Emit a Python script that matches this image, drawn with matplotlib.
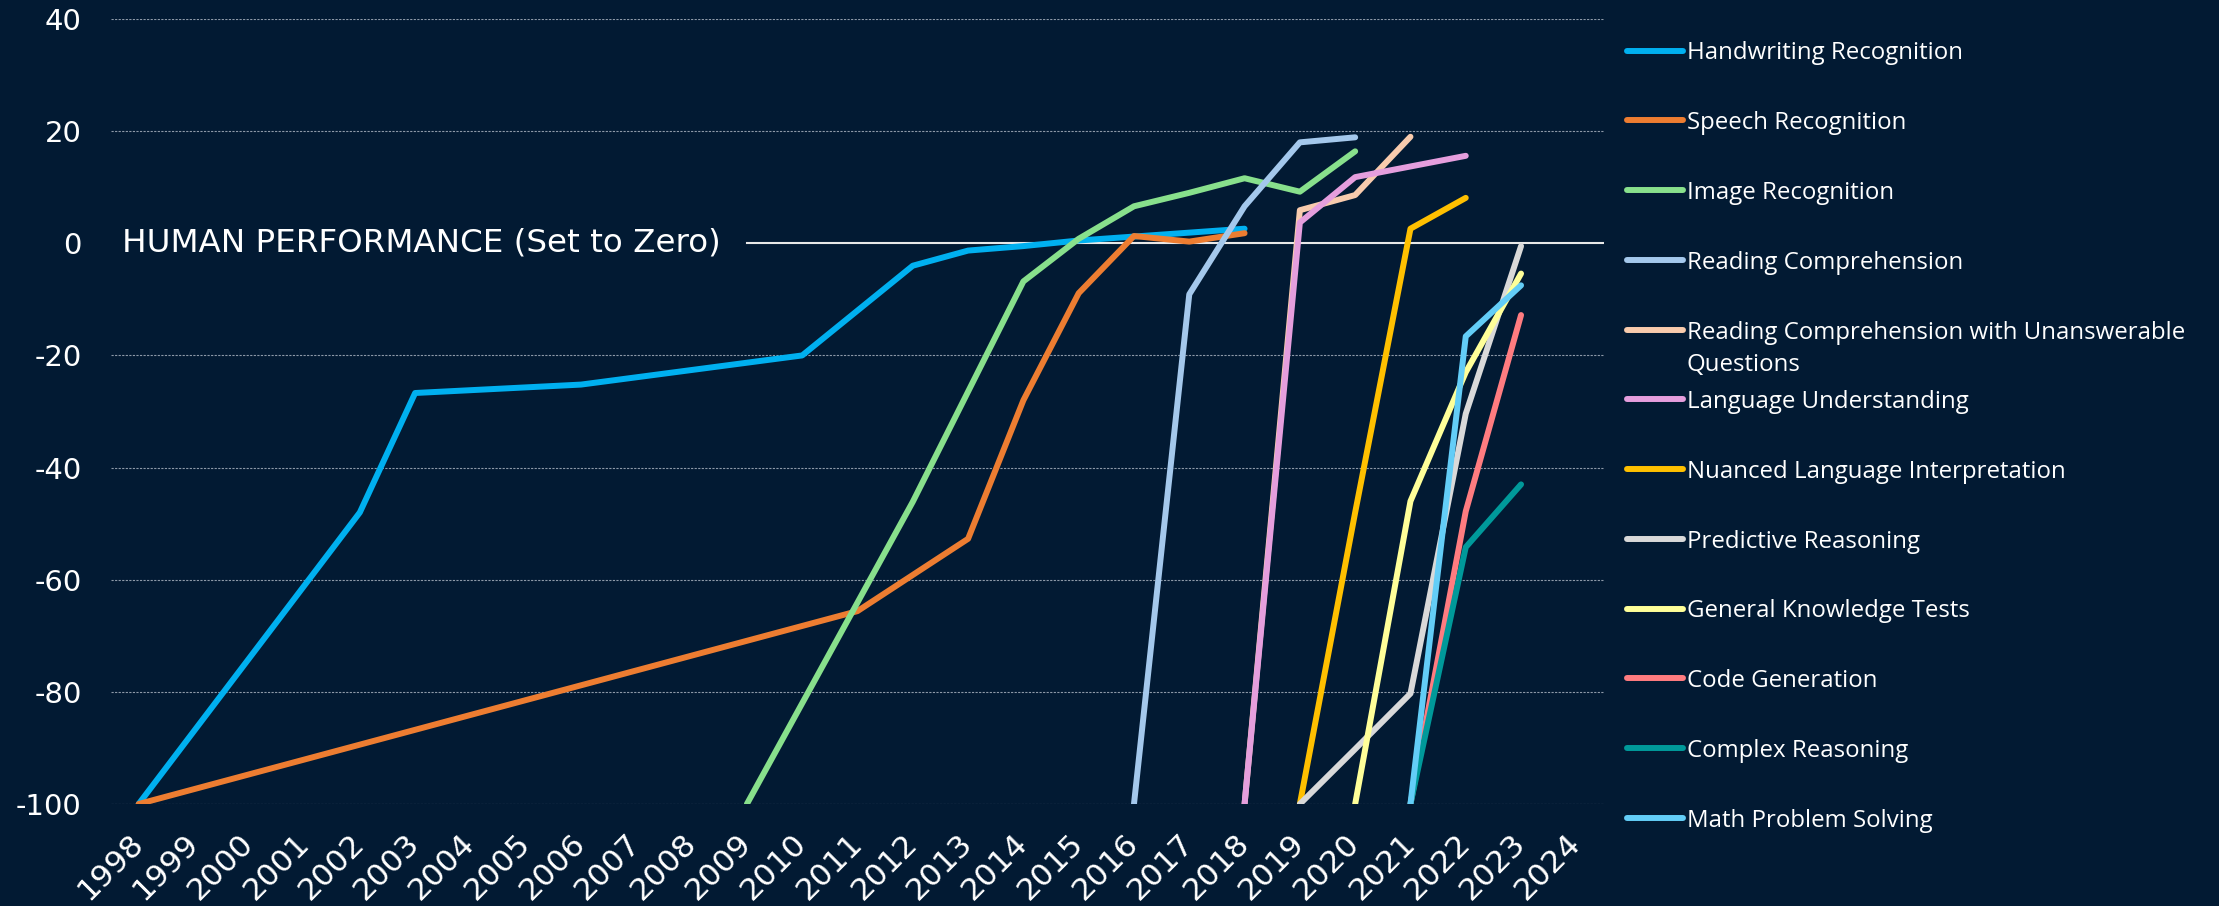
import matplotlib
matplotlib.use("Agg")
import matplotlib.pyplot as plt
from matplotlib.lines import Line2D

BG = "#021a33"

years = list(range(1998, 2025))
y_ticks = [40, 20, 0, -20, -40, -60, -80, -100]

series_names = [
    "Handwriting Recognition",
    "Speech Recognition",
    "Image Recognition",
    "Reading Comprehension",
    "Reading Comprehension with Unanswerable\nQuestions",
    "Language Understanding",
    "Nuanced Language Interpretation",
    "Predictive Reasoning",
    "General Knowledge Tests",
    "Code Generation",
    "Complex Reasoning",
    "Math Problem Solving",
]

handwriting_x = [1998, 2002, 2003, 2006, 2010, 2012, 2013, 2014, 2015, 2016, 2017, 2018]
handwriting_y = [-100, -48.0, -26.7, -25.2, -20.0, -4.0, -1.3, -0.5, 0.5, 1.2, 1.9, 2.6]

speech_x = [1998, 2011, 2013, 2014, 2015, 2016, 2017, 2018]
speech_y = [-100, -65.6, -52.7, -28.0, -8.9, 1.3, 0.3, 1.8]

image_x = [2009, 2012, 2014, 2015, 2016, 2017, 2018, 2019, 2020]
image_y = [-100, -46.1, -6.8, 0.8, 6.6, 9.0, 11.6, 9.2, 16.4]

reading_x = [2016, 2017, 2018, 2019, 2020]
reading_y = [-100, -9.1, 6.6, 18.0, 18.9]

reading_unans_x = [2018, 2019, 2020, 2021]
reading_unans_y = [-100, 5.9, 8.6, 19.0]

language_x = [2018, 2019, 2020, 2022]
language_y = [-100, 3.7, 11.8, 15.6]

nuanced_x = [2019, 2020, 2021, 2022]
nuanced_y = [-100, -48.0, 2.6, 8.1]

predictive_x = [2019, 2020, 2021, 2022, 2023]
predictive_y = [-100, -90.2, -80.3, -30.4, -0.5]

general_x = [2020, 2021, 2022, 2023]
general_y = [-100, -46.0, -23.0, -5.4]

code_x = [2021, 2022, 2023]
code_y = [-100, -47.8, -12.8]

complex_x = [2021, 2022, 2023]
complex_y = [-100, -54.2, -43.0]

math_x = [2021, 2022, 2023]
math_y = [-100, -16.6, -7.5]

series_x = [handwriting_x, speech_x, image_x, reading_x, reading_unans_x, language_x,
            nuanced_x, predictive_x, general_x, code_x, complex_x, math_x]
series_y = [handwriting_y, speech_y, image_y, reading_y, reading_unans_y, language_y,
            nuanced_y, predictive_y, general_y, code_y, complex_y, math_y]

colors = ["#00B0F0", "#ED7D31", "#88E08C", "#A4C8EC", "#F8CBAD", "#E59EDD",
          "#FFC000", "#D9D9D9", "#FFFF99", "#FF7C80", "#00999A", "#63CDF7"]

W, H = 2219, 906
fig = plt.figure(figsize=(W / 100, H / 100), dpi=100, facecolor=BG)
ax = fig.add_axes([111 / W, 1 - 804 / H, 1493 / W, 785 / H], facecolor=BG)

# gridlines
for t in y_ticks:
    if t != 0:
        ax.axhline(t, color="#8d99a8", lw=0.8, ls=(0, (2, 1.2)), zorder=1)
ax.axhline(0, xmin=11.5 / 27, xmax=1, color="#e8e8e8", lw=1.5, zorder=1)

for xs, ys, c in zip(series_x, series_y, colors):
    ax.plot(xs, ys, color=c, lw=4.3, solid_capstyle="round", solid_joinstyle="round", zorder=3)

ax.text(1997.7, 0, "HUMAN PERFORMANCE (Set to Zero)", color="white", fontsize=23.4,
        va="center", ha="left", family="DejaVu Sans", zorder=4)

ax.set_xlim(1997.5, 2024.5)
ax.set_ylim(-100, 40)
ax.set_yticks(y_ticks)
ax.set_yticklabels([str(v) for v in y_ticks])
ax.set_xticks(years)
ax.set_xticklabels([str(y) for y in years], rotation=45, ha="right", va="center",
                   rotation_mode="anchor")
ax.tick_params(axis="y", length=0, pad=21, labelsize=21, labelcolor="white")
ax.tick_params(axis="x", length=0, pad=25, labelsize=22.5, labelcolor="white")
for s in ax.spines.values():
    s.set_visible(False)

# legend (manual)
x0, x1, xt = 1627 / W, 1683 / W, 1687 / W
fs_leg = 17.3
cap_half_px = 0.357 * fs_leg * 100 / 72
line_pitch_px = 33
for i, (name, c) in enumerate(zip(series_names, colors)):
    yc = 50.7 + 69.75 * i
    yp = 1 - yc / H
    fig.add_artist(Line2D([x0, x1], [yp, yp], transform=fig.transFigure, color=c,
                          lw=4.3, solid_capstyle="round"))
    n_extra = name.count("\n")
    y_base = 1 - (yc + cap_half_px + n_extra * line_pitch_px) / H
    fig.text(xt, y_base, name, color="white", fontsize=fs_leg, family="Open Sans",
             va="baseline", ha="left", linespacing=1.45)

fig.savefig("out.png", dpi=100, facecolor=BG)
